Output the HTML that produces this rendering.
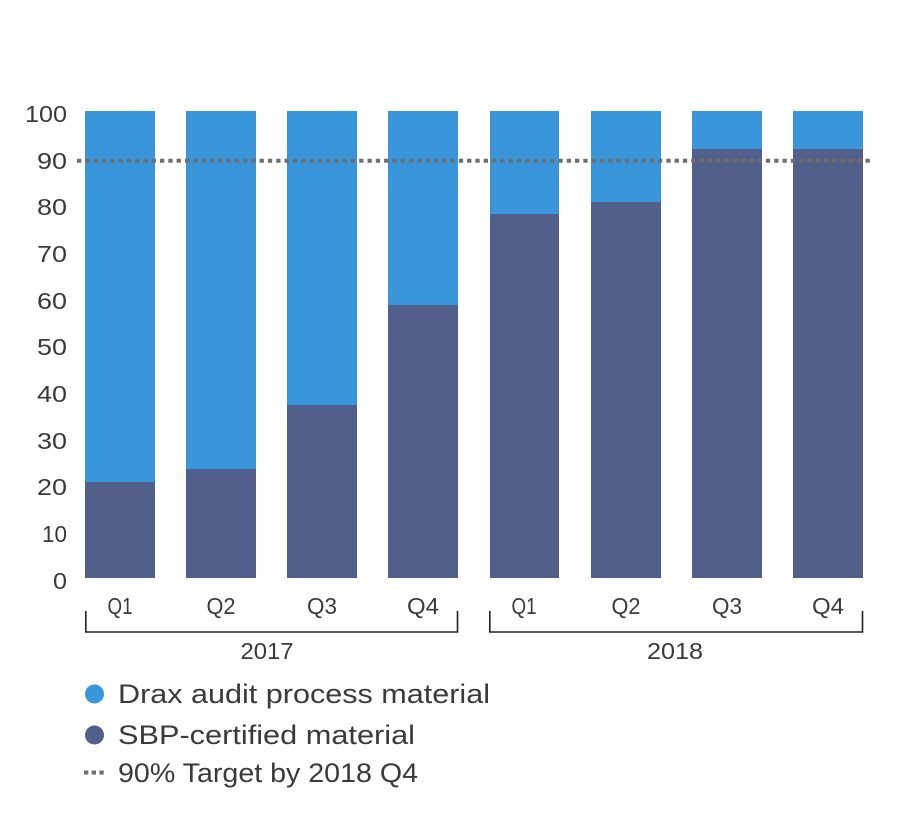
<!DOCTYPE html>
<html><head><meta charset="utf-8"><style>
html,body{margin:0;padding:0;background:#fff;}
svg{display:block;}
text{font-family:"Liberation Sans",sans-serif;fill:#3a3a3a;}
</style></head><body>
<svg width="909" height="828" viewBox="0 0 909 828" xmlns="http://www.w3.org/2000/svg">
<!-- y tick labels -->
<g font-size="23" text-anchor="end">
<text x="67" y="122" textLength="42" lengthAdjust="spacingAndGlyphs">100</text>
<text x="67" y="169" textLength="30" lengthAdjust="spacingAndGlyphs">90</text>
<text x="67" y="215" textLength="30" lengthAdjust="spacingAndGlyphs">80</text>
<text x="67" y="262" textLength="30" lengthAdjust="spacingAndGlyphs">70</text>
<text x="67" y="309" textLength="30" lengthAdjust="spacingAndGlyphs">60</text>
<text x="67" y="355" textLength="30" lengthAdjust="spacingAndGlyphs">50</text>
<text x="67" y="402" textLength="30" lengthAdjust="spacingAndGlyphs">40</text>
<text x="67" y="449" textLength="30" lengthAdjust="spacingAndGlyphs">30</text>
<text x="67" y="495" textLength="30" lengthAdjust="spacingAndGlyphs">20</text>
<text x="67" y="542" textLength="25" lengthAdjust="spacingAndGlyphs">10</text>
<text x="67" y="589" textLength="14" lengthAdjust="spacingAndGlyphs">0</text>
</g>
<!-- bars -->
<g fill="#3a96db">
<rect x="85" y="111" width="70" height="467"/>
<rect x="186" y="111" width="70" height="467"/>
<rect x="287" y="111" width="70" height="467"/>
<rect x="388" y="111" width="70" height="467"/>
<rect x="490" y="111" width="69" height="467"/>
<rect x="591" y="111" width="70" height="467"/>
<rect x="692" y="111" width="70" height="467"/>
<rect x="793" y="111" width="70" height="467"/>
</g>
<g fill="#515f8a">
<rect x="85" y="482" width="70" height="96"/>
<rect x="186" y="469" width="70" height="109"/>
<rect x="287" y="405" width="70" height="173"/>
<rect x="388" y="305" width="70" height="273"/>
<rect x="490" y="214" width="69" height="364"/>
<rect x="591" y="202" width="70" height="376"/>
<rect x="692" y="149" width="70" height="429"/>
<rect x="793" y="149" width="70" height="429"/>
</g>
<!-- target line -->
<line x1="77" y1="160.7" x2="873" y2="160.7" stroke="#6e6e6e" stroke-width="4" stroke-dasharray="4.3 4"/>
<!-- x labels -->
<g font-size="23" text-anchor="middle">
<text x="120" y="614" textLength="25" lengthAdjust="spacingAndGlyphs">Q1</text>
<text x="221" y="614" textLength="29" lengthAdjust="spacingAndGlyphs">Q2</text>
<text x="322" y="614" textLength="30" lengthAdjust="spacingAndGlyphs">Q3</text>
<text x="423" y="614" textLength="32" lengthAdjust="spacingAndGlyphs">Q4</text>
<text x="524" y="614" textLength="25" lengthAdjust="spacingAndGlyphs">Q1</text>
<text x="626" y="614" textLength="29" lengthAdjust="spacingAndGlyphs">Q2</text>
<text x="727" y="614" textLength="30" lengthAdjust="spacingAndGlyphs">Q3</text>
<text x="828" y="614" textLength="32" lengthAdjust="spacingAndGlyphs">Q4</text>
<text x="267" y="659" textLength="53" lengthAdjust="spacingAndGlyphs">2017</text>
<text x="675" y="659" textLength="56" lengthAdjust="spacingAndGlyphs">2018</text>
</g>
<!-- brackets -->
<g fill="none" stroke="#222" stroke-width="1.6">
<polyline points="85.8,611 85.8,632 457.5,632 457.5,611"/>
<polyline points="489.8,611 489.8,632 862.5,632 862.5,611"/>
</g>
<!-- legend -->
<circle cx="94.5" cy="694" r="9.5" fill="#3a96db"/>
<circle cx="94.5" cy="735" r="9.5" fill="#515f8a"/>
<line x1="84" y1="772.5" x2="105" y2="772.5" stroke="#6e6e6e" stroke-width="4" stroke-dasharray="4.3 3.4"/>
<g font-size="27">
<text x="118" y="703" textLength="372" lengthAdjust="spacingAndGlyphs">Drax audit process material</text>
<text x="118" y="744" textLength="297" lengthAdjust="spacingAndGlyphs">SBP-certified material</text>
<text x="118" y="782" textLength="300" lengthAdjust="spacingAndGlyphs">90% Target by 2018 Q4</text>
</g>
</svg>
</body></html>
